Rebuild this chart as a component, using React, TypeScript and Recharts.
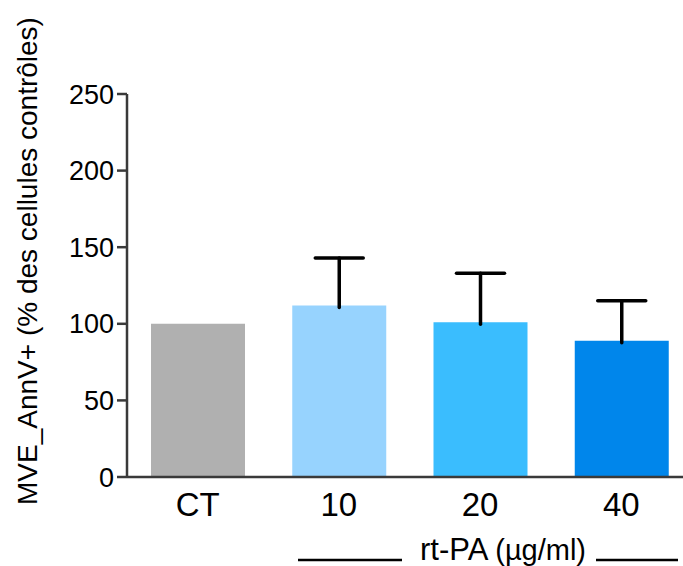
import { BarChart, Bar, XAxis, YAxis, Cell } from "recharts";

const categories = ["CT", "10", "20", "40"];
const means = [100, 112, 101, 89];
const sdUp = [0, 31, 32, 26];
const barColors = ["#b0b0b0", "#97d3fe", "#3abdfe", "#0086eb"];
const yTicks = [0, 50, 100, 150, 200, 250];

const data = categories.map((c, i) => ({
  name: c,
  mean: means[i],
  sd: sdUp[i],
}));

const FONT = "'Liberation Sans', Arial, Helvetica, sans-serif";
const AXIS = "#3a3a3a";

// draws the upper half of the error bar (T shape) on top of the stacked mean bar
function ErrorT(props: any) {
  const { x, y, width, height } = props;
  if (!height || height <= 0) return null;
  const cx = x + width / 2;
  return (
    <g stroke="#000" strokeWidth={3.5} strokeLinecap="round">
      <line x1={cx} y1={y} x2={cx} y2={y + height + 2} />
      <line x1={cx - 24} y1={y} x2={cx + 24} y2={y} />
    </g>
  );
}

export default function App() {
  return (
    <div
      style={{
        position: "fixed",
        left: 0,
        top: 0,
        width: 683,
        height: 566,
        overflow: "hidden",
        background: "#fff",
        fontFamily: FONT,
      }}
    >
      <BarChart
        width={700}
        height={566}
        data={data}
        margin={{ top: 94, right: 8, bottom: 29, left: 0 }}
      >
        <XAxis
          dataKey="name"
          height={60}
          tickLine={false}
          tickMargin={10}
          axisLine={{ stroke: AXIS, strokeWidth: 2.5 }}
          tick={{ fontSize: 33, fill: "#000", fontFamily: FONT }}
        />
        <YAxis
          width={127}
          domain={[0, 250]}
          ticks={yTicks}
          tickSize={10}
          tickMargin={3}
          axisLine={{ stroke: AXIS, strokeWidth: 2.5 }}
          tickLine={{ stroke: AXIS, strokeWidth: 2.5 }}
          tick={{ fontSize: 27, fill: "#000", fontFamily: FONT }}
        />
        <Bar dataKey="mean" stackId="a" barSize={94} isAnimationActive={false}>
          {data.map((d, i) => (
            <Cell key={d.name} fill={barColors[i]} />
          ))}
        </Bar>
        <Bar
          dataKey="sd"
          stackId="a"
          barSize={94}
          fill="transparent"
          shape={<ErrorT />}
          isAnimationActive={false}
        />
      </BarChart>

      <svg
        width={683}
        height={566}
        style={{ position: "absolute", left: 0, top: 0, pointerEvents: "none" }}
      >
        <text
          transform="translate(37,261) rotate(-90)"
          textAnchor="middle"
          fontSize={28}
          fontFamily={FONT}
          fill="#000"
        >
          MVE_AnnV+ (% des cellules contrôles)
        </text>
        <line x1={298} y1={560} x2={402} y2={560} stroke="#000" strokeWidth={2.5} />
        <line x1={596} y1={560} x2={678} y2={560} stroke="#000" strokeWidth={2.5} />
        <text x={420} y={560} fontFamily={FONT} fill="#000">
          <tspan fontSize={31}>rt-PA </tspan>
          <tspan fontSize={29}>(µg/ml)</tspan>
        </text>
      </svg>
    </div>
  );
}
